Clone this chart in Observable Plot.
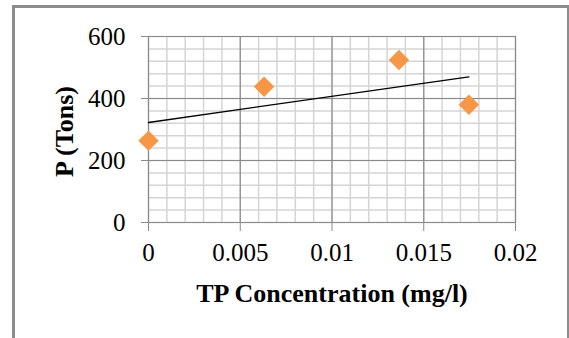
<!DOCTYPE html>
<html>
<head>
<meta charset="utf-8">
<script src="https://cdn.jsdelivr.net/npm/d3@7"></script>
<script src="https://cdn.jsdelivr.net/npm/@observablehq/plot@0.6"></script>
<style>
  html, body { margin: 0; padding: 0; background: #fff; }
  #wrap { position: relative; width: 569px; height: 338px; overflow: hidden; }
  #box {
    position: absolute; left: 12px; top: 5px; width: 552px; height: 360px;
    border: 3px solid #8c8c8c; border-bottom: none; pointer-events: none;
  }
</style>
</head>
<body>
<div id="wrap"><div id="box"></div></div>
<script>
// TP concentration (mg/l) against phosphorus load P (tons)
const tpConcentration = [0, 0.0063, 0.01365, 0.01746];
const phosphorusTons = [264, 438, 524, 380];

const xTicks = [0, 0.005, 0.01, 0.015, 0.02];
const yTicks = [0, 200, 400, 600];
const xLabel = "TP Concentration (mg/l)";
const yLabel = "P (Tons)";

const points = tpConcentration.map((x, i) => ({x, y: phosphorusTons[i]}));

const minorX = d3.range(0, 0.02001, 0.001);
const minorY = d3.range(0, 601, 40);

const serif = "Liberation Serif";

const chart = Plot.plot({
  width: 569,
  height: 338,
  marginLeft: 148,
  marginRight: 54,
  marginTop: 36,
  marginBottom: 116,
  style: {fontFamily: serif, fontSize: "25px", color: "#000", background: "transparent"},
  x: {domain: [0, 0.02]},
  y: {domain: [0, 600]},
  marks: [
    Plot.ruleX(minorX, {stroke: "#d4d4d4", strokeWidth: 1.5}),
    Plot.ruleY(minorY, {stroke: "#d4d4d4", strokeWidth: 1.5}),
    Plot.ruleX(xTicks, {stroke: "#8a8a8a", strokeWidth: 1.2}),
    Plot.ruleY(yTicks, {stroke: "#8a8a8a", strokeWidth: 1.2}),
    Plot.axisX({ticks: xTicks, tickSize: 9, tickPadding: 12, tickFormat: d => String(d),
      stroke: "#8a8a8a", fill: "#000", label: null, fontSize: 25, fontFamily: serif}),
    Plot.axisY({ticks: yTicks, tickSize: 7, tickPadding: 16, tickFormat: d => String(d),
      stroke: "#8a8a8a", fill: "#000", label: null, fontSize: 25, fontFamily: serif}),
    Plot.linearRegressionY(points, {x: "x", y: "y", stroke: "#000", strokeWidth: 1.3, ci: 0}),
    Plot.dot(points, {x: "x", y: "y", symbol: "diamond2", r: 9.2, fill: "#F79646", stroke: "none"}),
    Plot.text([xLabel], {frameAnchor: "bottom", dy: 71, text: d => d, fontWeight: "bold",
      fontSize: 26, fontFamily: serif, fill: "#000", textAnchor: "middle", lineAnchor: "middle"}),
    Plot.text([yLabel], {frameAnchor: "left", dx: -84, dy: 2, rotate: -90, text: d => d, fontWeight: "bold",
      fontSize: 26, fontFamily: serif, fill: "#000", textAnchor: "middle", lineAnchor: "middle"})
  ]
});
document.getElementById("wrap").prepend(chart);
chart.style.position = "absolute";
chart.style.left = "0";
chart.style.top = "0";
</script>
</body>
</html>
